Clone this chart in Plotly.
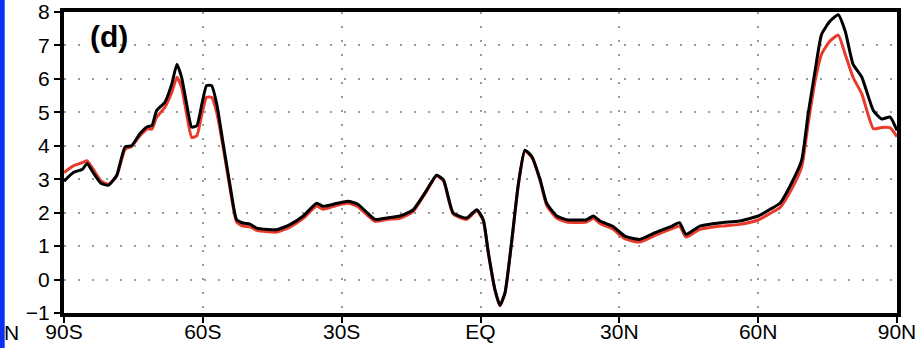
import plotly.graph_objects as go

lat = [-90, -88, -86, -85, -83.7, -82, -80.4, -78.6, -76.8, -75.4, -73.6, -72, -71, -70,
       -68.2, -66.7, -65.6, -64.6, -63.5, -62.4, -61.3, -60.2, -59.2, -58.1, -57, -55.6,
       -54.1, -52.7, -51.3, -49.8, -48.4, -46, -44, -41.2, -38.3, -35.4, -34, -31, -28.6,
       -26.5, -24.5, -22.8, -20, -17.4, -14.6, -11.6, -9.5, -8, -5.9, -3, -0.8, 0.6, 1.7,
       3.1, 4.2, 5.3, 6.7, 8.2, 9.6, 11.1, 12.9, 14.3, 16.5, 18.6, 22.9, 24.4, 25.8, 28.5,
       31.2, 34.4, 37.7, 41.4, 43, 44.4, 47.4, 52, 56, 60, 62.6, 64.7, 67.2, 69.4, 70.8,
       72.3, 73.7, 75.5, 77.3, 78.8, 80.5, 82.4, 84.9, 86.7, 88.5, 90]

black_vals = [2.94, 3.2, 3.3, 3.47, 3.2, 2.88, 2.82, 3.12, 3.97, 4.0, 4.36, 4.57, 4.6, 5.05,
              5.3, 5.85, 6.44, 6.05, 5.25, 4.56, 4.6, 5.25, 5.8, 5.8, 5.25, 4.06,
              2.8, 1.79, 1.69, 1.66, 1.54, 1.5, 1.49, 1.64, 1.9, 2.28, 2.19, 2.28, 2.34,
              2.25, 2.0, 1.8, 1.85, 1.9, 2.08, 2.68, 3.12, 2.98, 1.99, 1.84, 2.09, 1.79, 0.8,
              -0.29, -0.77, -0.39, 1.1, 2.88, 3.87, 3.68, 2.98, 2.28, 1.9, 1.79, 1.79, 1.9, 1.75, 1.6,
              1.3, 1.2, 1.4, 1.6, 1.7, 1.35, 1.6, 1.7, 1.75, 1.9, 2.1, 2.28, 2.88, 3.57, 4.96,
              6.24, 7.33, 7.72, 7.92, 7.43, 6.44, 6.05, 5.05, 4.8, 4.86, 4.46]

red_vals = [3.2, 3.4, 3.5, 3.55, 3.3, 2.95, 2.85, 3.1, 3.9, 3.98, 4.3, 4.5, 4.5, 4.85,
            5.15, 5.6, 6.05, 5.75, 4.95, 4.25, 4.3, 4.95, 5.45, 5.45, 5.0, 3.95,
            2.7, 1.72, 1.6, 1.58, 1.47, 1.43, 1.42, 1.57, 1.83, 2.2, 2.1, 2.22, 2.28,
            2.18, 1.93, 1.74, 1.8, 1.83, 2.03, 2.65, 3.1, 2.95, 1.96, 1.8, 2.06, 1.76, 0.78,
            -0.3, -0.78, -0.4, 1.08, 2.85, 3.85, 3.65, 2.95, 2.22, 1.83, 1.72, 1.72, 1.83, 1.68, 1.52,
            1.22, 1.12, 1.32, 1.52, 1.6, 1.27, 1.5, 1.6, 1.65, 1.78, 1.98, 2.15, 2.7, 3.37, 4.66,
            5.94, 6.74, 7.13, 7.31, 6.74, 6.05, 5.55, 4.51, 4.55, 4.54, 4.27]

x_tickvals = [-90, -60, -30, 0, 30, 60, 90]
x_ticktext = ["90S", "60S", "30S", "EQ", "30N", "60N", "90N"]
y_tickvals = [-1, 0, 1, 2, 3, 4, 5, 6, 7, 8]
y_ticktext = ["\u22121", "0", "1", "2", "3", "4", "5", "6", "7", "8"]

FONT = "Liberation Sans, Arial, sans-serif"

fig = go.Figure()
fig.add_trace(go.Scatter(x=lat, y=red_vals, mode="lines",
                         line=dict(color="#ea3a2c", width=3, shape="spline", smoothing=0.5),
                         showlegend=False, hoverinfo="skip"))
fig.add_trace(go.Scatter(x=lat, y=black_vals, mode="lines",
                         line=dict(color="black", width=3, shape="spline", smoothing=0.5),
                         showlegend=False, hoverinfo="skip"))

fig.update_layout(
    width=919, height=348,
    margin=dict(l=64, r=22, t=12, b=35, autoexpand=False),
    paper_bgcolor="white", plot_bgcolor="white",
    font=dict(family=FONT, size=21, color="black"),
    xaxis=dict(range=[-90, 90], tickvals=x_tickvals, ticktext=x_ticktext,
               showline=True, linecolor="black", linewidth=4, mirror=True,
               ticks="outside", ticklen=6, tickwidth=2, tickcolor="black",
               ticklabelstandoff=-9, ticklabeloverflow="allow",
               showgrid=True, gridcolor="#9a9a9a", gridwidth=1.5, griddash="2px,12px",
               zeroline=False, automargin=False, tickfont=dict(size=21, family=FONT)),
    yaxis=dict(range=[-1, 8], tickvals=y_tickvals, ticktext=y_ticktext,
               showline=True, linecolor="black", linewidth=4, mirror=True,
               ticks="outside", ticklen=6, tickwidth=2, tickcolor="black",
               ticklabeloverflow="allow",
               showgrid=True, gridcolor="#9a9a9a", gridwidth=1.5, griddash="2px,12px",
               zeroline=False, automargin=False, tickfont=dict(size=21, family=FONT)),
    shapes=[dict(type="rect", xref="paper", yref="paper",
                 x0=-0.09, x1=-0.0712, y0=-0.3, y1=1.2,
                 fillcolor="#0a2ff5", line=dict(width=0), layer="above")],
    annotations=[
        dict(text="<b>(d)</b>", xref="paper", yref="paper", x=0.054, y=0.918,
             xanchor="center", yanchor="middle",
             showarrow=False, font=dict(size=30, family=FONT, color="black")),
        dict(text="N", xref="paper", yref="paper", x=-0.0636, y=-0.066,
             xanchor="center", yanchor="middle",
             showarrow=False, font=dict(size=21, family=FONT, color="black")),
    ],
)

fig.write_html("out.html")
